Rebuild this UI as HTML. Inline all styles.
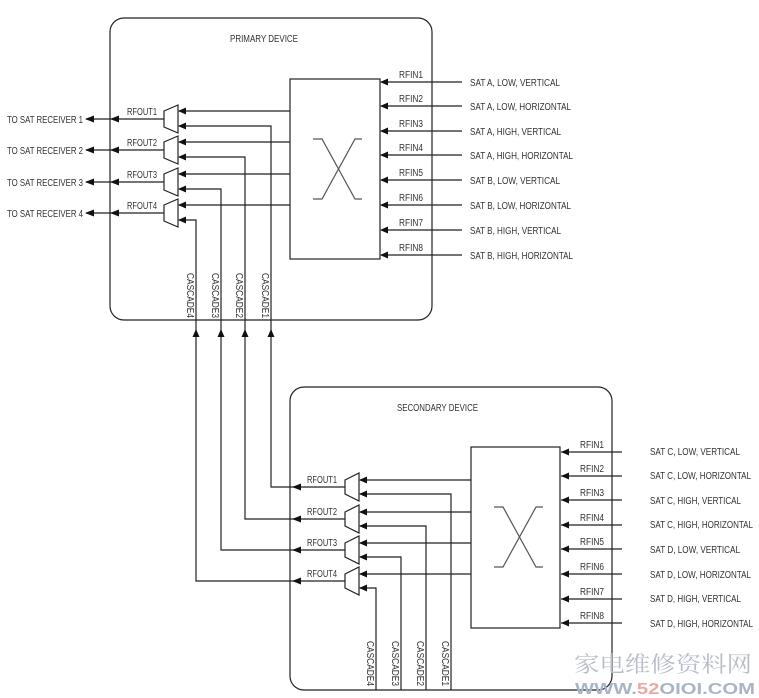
<!DOCTYPE html>
<html><head><meta charset="utf-8"><style>
html,body{margin:0;padding:0;background:#fff;}
svg{display:block;}
text{font-family:"Liberation Sans",sans-serif;font-size:10px;fill:#333;}
</style></head><body>
<svg width="759" height="698" viewBox="0 0 759 698" xmlns="http://www.w3.org/2000/svg">
<g fill="none" stroke="#222" stroke-width="1.2">
<rect x="110" y="18" width="322" height="302" rx="14"/>
<rect x="290" y="79" width="90" height="180"/>
<path d="M313 139H322L355 199H362M362 139H355L322 199H313" stroke="#555"/>
<path d="M381 82H462M381 106H462M381 131H462M381 155H462M381 180H462M381 205H462M381 230H462M381 255H462"/>
<path d="M164 111L178 105V133L164 127Z M164 142L178 136V164L164 158Z M164 174L178 168V196L164 190Z M164 205L178 199V227L164 221Z"/>
<path d="M290 111H179M290 142H179M290 174H179M290 205H179"/>
<path d="M164 119H86M164 150H86M164 182H86M164 213H86"/>
<path d="M179 126H271V333M179 157H245V333M179 189H221V333M179 220H196V333"/>
<rect x="290" y="387" width="322" height="303" rx="14"/>
<rect x="471" y="447" width="89" height="181"/>
<path d="M494 507H503L536 567H543M543 507H536L503 567H494" stroke="#555"/>
<path d="M561 452H622M561 476H622M561 500H622M561 525H622M561 549H622M561 574H622M561 599H622M561 623H622"/>
<path d="M345 480L359 473V501L345 494Z M345 512L359 505V533L345 526Z M345 543L359 536V564L345 557Z M345 574L359 567V595L345 588Z"/>
<path d="M471 480H360M471 512H360M471 543H360M471 574H360"/>
<path d="M345 487H271V333M345 519H245V333M345 550H221V333M345 581H196V333"/>
<path d="M360 494H451V690M360 526H426V690M360 557H401V690M360 588H376V690"/>
</g>
<g fill="#111">
<path d="M380 82l8-3.5v7zM380 106l8-3.5v7zM380 131l8-3.5v7zM380 155l8-3.5v7zM380 180l8-3.5v7zM380 205l8-3.5v7zM380 230l8-3.5v7zM380 255l8-3.5v7z"/>
<path d="M178 111l8-3.5v7zM178 142l8-3.5v7zM178 174l8-3.5v7zM178 205l8-3.5v7z"/>
<path d="M178 126l8-3.5v7zM178 157l8-3.5v7zM178 189l8-3.5v7zM178 220l8-3.5v7z"/>
<path d="M85 119l9-3.5v7zM85 150l9-3.5v7zM85 182l9-3.5v7zM85 213l9-3.5v7z"/>
<path d="M110 119l9-3.5v7zM110 150l9-3.5v7zM110 182l9-3.5v7zM110 213l9-3.5v7z"/>
<path d="M271 329l-3.5 8h7zM245 329l-3.5 8h7zM221 329l-3.5 8h7zM196 329l-3.5 8h7z"/>
<path d="M561 452l8-3.5v7zM561 476l8-3.5v7zM561 500l8-3.5v7zM561 525l8-3.5v7zM561 549l8-3.5v7zM561 574l8-3.5v7zM561 599l8-3.5v7zM561 623l8-3.5v7z"/>
<path d="M359 480l8-3.5v7zM359 512l8-3.5v7zM359 543l8-3.5v7zM359 574l8-3.5v7z"/>
<path d="M359 494l8-3.5v7zM359 526l8-3.5v7zM359 557l8-3.5v7zM359 588l8-3.5v7z"/>
<path d="M292 487l9-3.5v7zM292 519l9-3.5v7zM292 550l9-3.5v7zM292 581l9-3.5v7z"/>
</g>
<g lengthAdjust="spacingAndGlyphs">
<text x="230" y="42" textLength="68" lengthAdjust="spacingAndGlyphs">PRIMARY DEVICE</text>
<text x="397" y="411" textLength="81" lengthAdjust="spacingAndGlyphs">SECONDARY DEVICE</text>
<text x="399" y="78" textLength="24" lengthAdjust="spacingAndGlyphs">RFIN1</text><text x="399" y="102" textLength="24" lengthAdjust="spacingAndGlyphs">RFIN2</text><text x="399" y="127" textLength="24" lengthAdjust="spacingAndGlyphs">RFIN3</text><text x="399" y="151" textLength="24" lengthAdjust="spacingAndGlyphs">RFIN4</text>
<text x="399" y="176" textLength="24" lengthAdjust="spacingAndGlyphs">RFIN5</text><text x="399" y="201" textLength="24" lengthAdjust="spacingAndGlyphs">RFIN6</text><text x="399" y="226" textLength="24" lengthAdjust="spacingAndGlyphs">RFIN7</text><text x="399" y="251" textLength="24" lengthAdjust="spacingAndGlyphs">RFIN8</text>
<text x="470" y="86" textLength="90" lengthAdjust="spacingAndGlyphs">SAT A, LOW, VERTICAL</text><text x="470" y="110" textLength="101" lengthAdjust="spacingAndGlyphs">SAT A, LOW, HORIZONTAL</text>
<text x="470" y="135" textLength="91" lengthAdjust="spacingAndGlyphs">SAT A, HIGH, VERTICAL</text><text x="470" y="159" textLength="103" lengthAdjust="spacingAndGlyphs">SAT A, HIGH, HORIZONTAL</text>
<text x="470" y="184" textLength="90" lengthAdjust="spacingAndGlyphs">SAT B, LOW, VERTICAL</text><text x="470" y="209" textLength="101" lengthAdjust="spacingAndGlyphs">SAT B, LOW, HORIZONTAL</text>
<text x="470" y="234" textLength="91" lengthAdjust="spacingAndGlyphs">SAT B, HIGH, VERTICAL</text><text x="470" y="259" textLength="103" lengthAdjust="spacingAndGlyphs">SAT B, HIGH, HORIZONTAL</text>
<text x="127" y="115" textLength="30" lengthAdjust="spacingAndGlyphs">RFOUT1</text><text x="127" y="146" textLength="30" lengthAdjust="spacingAndGlyphs">RFOUT2</text><text x="127" y="178" textLength="30" lengthAdjust="spacingAndGlyphs">RFOUT3</text><text x="127" y="209" textLength="30" lengthAdjust="spacingAndGlyphs">RFOUT4</text>
<text x="7" y="123" textLength="76" lengthAdjust="spacingAndGlyphs">TO SAT RECEIVER 1</text><text x="7" y="154" textLength="76" lengthAdjust="spacingAndGlyphs">TO SAT RECEIVER 2</text>
<text x="7" y="186" textLength="76" lengthAdjust="spacingAndGlyphs">TO SAT RECEIVER 3</text><text x="7" y="217" textLength="76" lengthAdjust="spacingAndGlyphs">TO SAT RECEIVER 4</text>
<text transform="translate(262,273) rotate(90)" textLength="45" lengthAdjust="spacingAndGlyphs">CASCADE1</text>
<text transform="translate(236,273) rotate(90)" textLength="45" lengthAdjust="spacingAndGlyphs">CASCADE2</text>
<text transform="translate(212,273) rotate(90)" textLength="45" lengthAdjust="spacingAndGlyphs">CASCADE3</text>
<text transform="translate(187,273) rotate(90)" textLength="45" lengthAdjust="spacingAndGlyphs">CASCADE4</text>
<text x="580" y="448" textLength="24" lengthAdjust="spacingAndGlyphs">RFIN1</text><text x="580" y="472" textLength="24" lengthAdjust="spacingAndGlyphs">RFIN2</text><text x="580" y="496" textLength="24" lengthAdjust="spacingAndGlyphs">RFIN3</text><text x="580" y="521" textLength="24" lengthAdjust="spacingAndGlyphs">RFIN4</text>
<text x="580" y="545" textLength="24" lengthAdjust="spacingAndGlyphs">RFIN5</text><text x="580" y="570" textLength="24" lengthAdjust="spacingAndGlyphs">RFIN6</text><text x="580" y="595" textLength="24" lengthAdjust="spacingAndGlyphs">RFIN7</text><text x="580" y="619" textLength="24" lengthAdjust="spacingAndGlyphs">RFIN8</text>
<text x="650" y="455" textLength="90" lengthAdjust="spacingAndGlyphs">SAT C, LOW, VERTICAL</text><text x="650" y="479" textLength="101" lengthAdjust="spacingAndGlyphs">SAT C, LOW, HORIZONTAL</text>
<text x="650" y="504" textLength="91" lengthAdjust="spacingAndGlyphs">SAT C, HIGH, VERTICAL</text><text x="650" y="528" textLength="103" lengthAdjust="spacingAndGlyphs">SAT C, HIGH, HORIZONTAL</text>
<text x="650" y="553" textLength="90" lengthAdjust="spacingAndGlyphs">SAT D, LOW, VERTICAL</text><text x="650" y="578" textLength="101" lengthAdjust="spacingAndGlyphs">SAT D, LOW, HORIZONTAL</text>
<text x="650" y="602" textLength="91" lengthAdjust="spacingAndGlyphs">SAT D, HIGH, VERTICAL</text><text x="650" y="627" textLength="103" lengthAdjust="spacingAndGlyphs">SAT D, HIGH, HORIZONTAL</text>
<text x="307" y="483" textLength="30" lengthAdjust="spacingAndGlyphs">RFOUT1</text><text x="307" y="515" textLength="30" lengthAdjust="spacingAndGlyphs">RFOUT2</text><text x="307" y="546" textLength="30" lengthAdjust="spacingAndGlyphs">RFOUT3</text><text x="307" y="577" textLength="30" lengthAdjust="spacingAndGlyphs">RFOUT4</text>
<text transform="translate(442,641) rotate(90)" textLength="45" lengthAdjust="spacingAndGlyphs">CASCADE1</text>
<text transform="translate(417,641) rotate(90)" textLength="45" lengthAdjust="spacingAndGlyphs">CASCADE2</text>
<text transform="translate(392,641) rotate(90)" textLength="45" lengthAdjust="spacingAndGlyphs">CASCADE3</text>
<text transform="translate(367,641) rotate(90)" textLength="45" lengthAdjust="spacingAndGlyphs">CASCADE4</text>
</g>
<text x="574" y="672" textLength="178" lengthAdjust="spacingAndGlyphs" style="font-family:'Noto Serif CJK SC',serif;font-size:22px;fill:#b8bccc">家电维修资料网</text>
<text x="575" y="694" textLength="180" lengthAdjust="spacingAndGlyphs" style="font-family:'Liberation Sans',sans-serif;font-size:16px;font-weight:bold;fill:#a9b4c8">WWW.<tspan style="fill:#e9a9a0">52</tspan>OIOI.COM</text>
</svg>
</body></html>
